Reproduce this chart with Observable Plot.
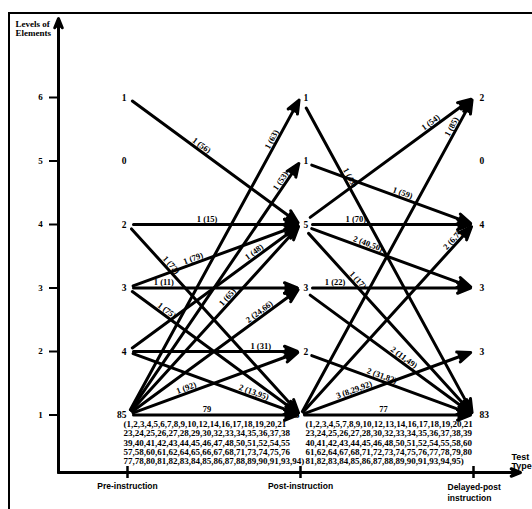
<!DOCTYPE html>
<html><head><meta charset="utf-8">
<script src="https://cdn.jsdelivr.net/npm/d3@7"></script>
<script src="https://cdn.jsdelivr.net/npm/@observablehq/plot@0.6"></script>
<style>
html,body{margin:0;padding:0;background:#fff;}
#wrap{position:relative;width:532px;height:509px;overflow:hidden;background:#fff;}
#frame{position:absolute;left:8px;top:12px;width:600px;height:600px;border-left:2px solid #000;border-top:2px solid #000;pointer-events:none;}
</style></head><body>
<div id="wrap"><div id="chart"></div><div id="frame"></div></div>
<script>
// ---- data ----
const stages = ["Pre-instruction", "Post-instruction", "Delayed-post\ninstruction"];
const levels = [1, 2, 3, 4, 5, 6];
const preCounts = ["85", "4", "3", "2", "0", "1"];      // levels 1..6
const postCounts = ["83", "2", "3", "5", "1", "1"];
const delayedCounts = ["83", "3", "3", "4", "0", "2"];

const preFrom  = [6, 4, 4, 3, 3, 3, 2, 2, 2, 1, 1, 1, 1, 1, 1];
const preTo    = [4, 4, 1, 4, 3, 1, 2, 1, 4, 6, 5, 4, 3, 2, 1];
const preLabel = ["1 (56)", "1 (15)", "1 (72)", "1 (79)", "1 (11)", "1 (75)", "1 (31)", "2 (13,95)", "1 (48)", "1 (63)", "1 (53)", "1 (65)", "2 (24,66)", "1 (92)", "79"];

const postFrom  = [6, 5, 4, 4, 4, 4, 3, 3, 2, 1, 1, 1, 1];
const postTo    = [1, 4, 6, 4, 3, 1, 3, 1, 1, 6, 4, 2, 1];
const postLabel = ["1 (43)", "1 (59)", "1 (54)", "1 (70)", "2 (40,50)", "1 (17)", "1 (22)", "2 (11,49)", "2 (31,82)", "1 (85)", "2 (6,7)", "3 (8,29,92)", "77"];

const stayPreLines = [
  "(1,2,3,4,5,6,7,8,9,10,12,14,16,17,18,19,20,21",
  "23,24,25,26,27,28,29,30,32,33,34,35,36,37,38",
  "39,40,41,42,43,44,45,46,47,48,50,51,52,54,55",
  "57,58,60,61,62,64,65,66,67,68,71,73,74,75,76",
  "77,78,80,81,82,83,84,85,86,87,88,89,90,91,93,94)"
];
const stayPostLines = [
  "(1,2,3,4,5,7,8,9,10,12,13,14,16,17,18,19,20,21",
  "23,24,25,26,27,28,30,32,33,34,35,36,37,38,39",
  "40,41,42,43,44,45,46,48,50,51,52,54,55,58,60",
  "61,62,64,67,68,71,72,73,74,75,76,77,78,79,80",
  "81,82,83,84,85,86,87,88,89,90,91,93,94,95)"
];

// ---- layout (label position along each edge, 0..1) ----
const preT  = [0.41, 0.46, 0.23, 0.39, 0.21, 0.21, 0.77, 0.72, 0.75, 0.86, 0.91, 0.60, 0.78, 0.35, 0.46];
const postT = [0.26, 0.58, 0.77, 0.32, 0.38, 0.31, 0.20, 0.58, 0.46, 0.90, 0.90, 0.32, 0.48];

const W = 532, H = 509, mL = 58, mR = 12, mT = 18, mB = 37;
const xDomain = [-0.3988, 2.2717];
const yDomain = [0.0945, 7.244];
const xs = Plot.scale({x: {type: "linear", domain: xDomain, range: [mL, W - mR]}});
const ys = Plot.scale({y: {type: "linear", domain: yDomain, range: [H - mB, mT]}});

const edges = [
  ...preFrom.map((f, i) => ({s: 0, from: f, to: preTo[i], label: preLabel[i], t: preT[i]})),
  ...postFrom.map((f, i) => ({s: 1, from: f, to: postTo[i], label: postLabel[i], t: postT[i]}))
];

const off = 2.5;
const edgeLabels = edges.map(e => {
  const ax = xs.apply(e.s), ay = ys.apply(e.from), bx = xs.apply(e.s + 1), by = ys.apply(e.to);
  const ang = Math.atan2(by - ay, bx - ax);
  const px = ax + e.t * (bx - ax) + off * Math.sin(ang);
  const py = ay + e.t * (by - ay) - off * Math.cos(ang);
  return {label: e.label, x: xs.invert(px), y: ys.invert(py), rotate: ang * 180 / Math.PI};
});

const arrowOpts = (insetStart) => ({
  x1: "s", y1: "from", x2: d => d.s + 1, y2: "to",
  stroke: "black", fill: "black", strokeWidth: 3,
  headLength: 7, headAngle: 44, insetStart, insetEnd: 3
});

const nodes = (counts, s) => counts.map((c, i) => ({s, level: levels[i], text: c}));
const preNodes = nodes(preCounts, 0);
const postNodes = nodes(postCounts, 1);
const delNodes = nodes(delayedCounts, 2);

const font = "Liberation Serif";
const chart = Plot.plot({
  width: W, height: H,
  marginLeft: mL, marginRight: mR, marginTop: mT, marginBottom: mB,
  x: {domain: xDomain, axis: null},
  y: {domain: yDomain, axis: null},
  style: {fontFamily: font, background: "white", color: "black", overflow: "visible"},
  marks: [
    // axes
    Plot.arrow([0], {x1: () => xDomain[0], y1: () => yDomain[0], x2: () => xDomain[0], y2: () => yDomain[1],
      stroke: "black", fill: "black", strokeWidth: 3, headLength: 5, headAngle: 44}),
    Plot.arrow([0], {x1: () => xDomain[0], y1: () => yDomain[0], x2: () => xDomain[1], y2: () => yDomain[0],
      stroke: "black", fill: "black", strokeWidth: 3, headLength: 5, headAngle: 44}),
    Plot.ruleY(levels, {y: d => d, x1: () => xs.invert(mL - 9), x2: () => xDomain[0], stroke: "black", strokeWidth: 2}),
    Plot.ruleX([0, 1, 2], {x: d => d, y1: () => ys.invert(H - mB - 6), y2: () => ys.invert(H - mB + 6), stroke: "black", strokeWidth: 2.5}),
    Plot.text(levels, {x: () => xDomain[0], y: d => d, text: d => String(d), dx: -18, fontSize: 9, fontWeight: "bold"}),
    Plot.text(["Levels of\nElements"], {frameAnchor: "top-left", dx: -43, dy: 1, textAnchor: "start", lineAnchor: "top", fontSize: 9, fontWeight: "bold", lineHeight: 1.1}),
    Plot.text(["Test\nType"], {frameAnchor: "bottom-right", dx: -9, dy: -20, textAnchor: "start", lineAnchor: "top", fontSize: 9, fontWeight: "bold", fontFamily: "Liberation Sans", lineHeight: 1.1}),
    Plot.text(stages.slice(0, 2), {x: (d, i) => i, frameAnchor: "bottom", dy: 10, lineAnchor: "top", fontSize: 8.5, fontWeight: "bold", fontFamily: "Liberation Sans"}),
    Plot.text(stages.slice(2), {x: () => 2, frameAnchor: "bottom", dy: 10, dx: -26, textAnchor: "start", lineAnchor: "top", fontSize: 8.5, fontWeight: "bold", fontFamily: "Liberation Sans", lineHeight: 1.3}),
    // edges
    Plot.arrow(edges.filter(e => e.s === 0), arrowOpts(6)),
    Plot.arrow(edges.filter(e => e.s === 1 && e.from > 1), arrowOpts(12)),
    Plot.arrow(edges.filter(e => e.s === 1 && e.from === 1), arrowOpts(4)),
    // edge labels
    Plot.text(edgeLabels, {x: "x", y: "y", text: "label", rotate: "rotate", lineAnchor: "bottom", fontSize: 8.5, fontWeight: "bold"}),
    // node counts
    Plot.text(preNodes, {x: "s", y: "level", text: "text", textAnchor: "end", dx: -1, fontSize: 9.5, fontWeight: "bold"}),
    Plot.text(postNodes.filter(d => d.level > 1), {x: "s", y: "level", text: "text", textAnchor: "start", dx: 3, fontSize: 9.5, fontWeight: "bold"}),
    Plot.text(postNodes.filter(d => d.level === 1), {x: "s", y: "level", text: "text", textAnchor: "end", dx: -1, fontSize: 9.5, fontWeight: "bold"}),
    Plot.text(delNodes, {x: "s", y: "level", text: "text", textAnchor: "start", dx: 6, fontSize: 9.5, fontWeight: "bold"}),
    // lists of unchanged students
    Plot.text([stayPreLines.join("\n")], {x: () => 0, y: () => 1, dx: -4, dy: 5, textAnchor: "start", lineAnchor: "top", lineHeight: 1.05, fontSize: 9, fontWeight: "bold"}),
    Plot.text([stayPostLines.join("\n")], {x: () => 1, y: () => 1, dx: 5, dy: 5, textAnchor: "start", lineAnchor: "top", lineHeight: 1.05, fontSize: 9, fontWeight: "bold"})
  ]
});
document.getElementById("chart").appendChild(chart);
</script>
</body></html>
